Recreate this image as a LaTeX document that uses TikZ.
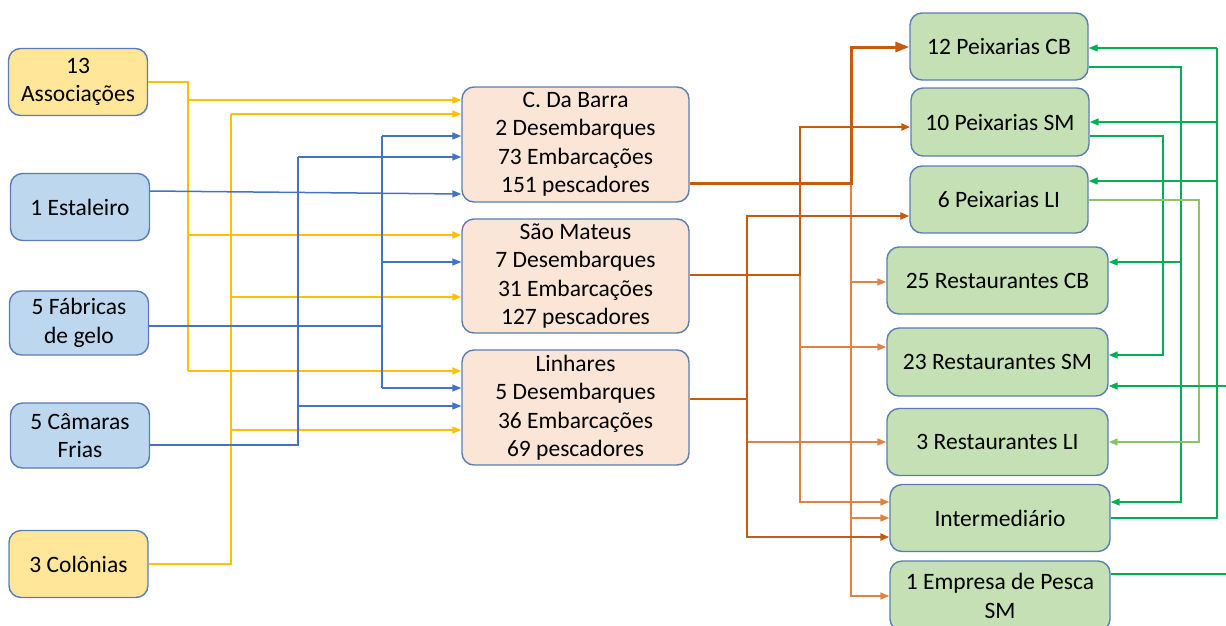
\documentclass[tikz,border=0pt]{standalone}
\usepackage{fontspec}
\setmainfont{Carlito}
\usetikzlibrary{arrows.meta, positioning, calc}

\definecolor{ylwfill}{HTML}{FFE699}
\definecolor{bluefill}{HTML}{BDD7EE}
\definecolor{peachfill}{HTML}{FBE5D6}
\definecolor{greenfill}{HTML}{C5E0B4}
\definecolor{boxline}{HTML}{5B7DB5}
\definecolor{ylwline}{HTML}{FFC000}
\definecolor{blueline}{HTML}{4472C4}
\definecolor{orgline}{HTML}{C55A11}
\definecolor{orglight}{HTML}{DF8246}
\definecolor{grnline}{HTML}{00B050}
\definecolor{grnlight}{HTML}{8CC36A}

\tikzset{
	box/.style={draw=boxline, line width=1.4pt, rounded corners=12pt, align=center,
		inner sep=0pt, font=\fontsize{23.5}{28.5}\selectfont},
	srcbox/.style={box, minimum width=139pt, minimum height=67pt},
	portbox/.style={box, fill=peachfill, minimum width=227pt, minimum height=115pt},
	shopbox/.style={box, fill=greenfill, minimum width=178pt, minimum height=67pt},
	restbox/.style={box, fill=greenfill, minimum width=221pt, minimum height=67pt},
	tip/.style={-{Triangle[length=9pt,width=7pt]}},
	bigtip/.style={-{Triangle[length=14pt,width=10pt]}},
	yline/.style={draw=ylwline, line width=1.8pt},
	bline/.style={draw=blueline, line width=1.5pt},
	oline/.style={draw=orgline, line width=2.2pt},
	othin/.style={draw=orglight, line width=1.5pt},
	gline/.style={draw=grnline, line width=1.5pt}
}

\begin{document}
\begin{tikzpicture}[x=1pt, y=-1pt]
	\useasboundingbox (0,0) rectangle (1226,625);
	% ---------- left column: suppliers ----------
	\node[srcbox, fill=ylwfill] (assoc) at (78,82) {13\\Associações};
	\node[srcbox, fill=bluefill] (estal) at (80,207) {1 Estaleiro};
	\node[srcbox, fill=bluefill, minimum height=64pt] (fabr) at (79,323) {5 Fábricas\\de gelo};
	\node[srcbox, fill=bluefill, minimum height=65pt] (camar) at (80,435.5) {5 Câmaras\\Frias};
	\node[srcbox, fill=ylwfill] (colon) at (78.5,564) {3 Colônias};
	% ---------- middle column: landing sites ----------
	\node[portbox] (cdb) at (575.5,144.5) {C. Da Barra\\2 Desembarques\\73 Embarcações\\151 pescadores};
	\node[portbox, minimum height=114pt] (smat) at (575.5,276) {São Mateus\\7 Desembarques\\31 Embarcações\\127 pescadores};
	\node[portbox] (linh) at (575.5,407.5) {Linhares\\5 Desembarques\\36 Embarcações\\69 pescadores};
	% ---------- right column: buyers ----------
	\node[shopbox] (pcb) at (999,46.5) {12 Peixarias CB};
	\node[shopbox, minimum height=68pt] (psm) at (1000,122) {10 Peixarias SM};
	\node[shopbox] (pli) at (999,199.5) {6 Peixarias LI};
	\node[restbox] (rcb) at (997.5,280.5) {25 Restaurantes CB};
	\node[restbox, minimum height=68pt] (rsm) at (997.5,362) {23 Restaurantes SM};
	\node[restbox] (rli) at (997.5,442) {3 Restaurantes LI};
	\node[restbox, minimum width=220pt] (inter) at (1000,518) {Intermediário};
	\node[restbox, minimum width=220pt, minimum height=70pt] (emp) at (1000,596) {1 Empresa de Pesca\\SM};
	% ---------- yellow: associations and colonies ----------
	\coordinate (abus) at (188,371);
	\coordinate (cbus) at (231,114);
	\draw[yline, line width=2.6pt] (assoc.east) -| (abus);
	\foreach \y/\n in {100/cdb, 371/linh}
		\draw[yline, tip] (abus |- 0,\y) -- (\n.west |- 0,\y);
	\draw[yline, tip, line width=2.6pt] (abus |- 0,235) -- (smat.west |- 0,235);
	\draw[yline] (colon.east) -| (cbus);
	\foreach \y/\n in {114/cdb, 297/smat, 430/linh}
		\draw[yline, tip] (cbus |- 0,\y) -- (\n.west |- 0,\y);
	% ---------- blue: shipyard, ice and cold storage ----------
	\coordinate (fbus) at (382,136);
	\coordinate (kbus) at (298,157);
	\draw[bline, tip] (estal.east |- 0,191) -- (cdb.west |- 0,194);
	\draw[bline] (fabr.east |- 0,326) -| (fbus);
	\draw[bline] (fbus |- 0,326) -- (fbus |- 0,388);
	\foreach \y/\n in {136/cdb, 262/smat, 388/linh}
		\draw[bline, tip] (fbus |- 0,\y) -- (\n.west |- 0,\y);
	\draw[bline] (camar.east |- 0,445) -| (kbus);
	\foreach \y/\n in {157/cdb, 406/linh}
		\draw[bline, tip] (kbus |- 0,\y) -- (\n.west |- 0,\y);
	% ---------- orange: landing sites to buyers ----------
	\coordinate (obar) at (851,183);
	\coordinate (osm) at (800,275);
	\coordinate (olin) at (747,399);
	% C. Da Barra
	\draw[othin, tip] (obar) |- (emp.west);
	\draw[othin, tip] (obar |- 0,282) -- (rcb.west |- 0,282);
	\draw[othin, tip] (obar |- inter.west) -- (inter.west);
	\draw[oline, bigtip, line width=3pt] (cdb.east |- obar) -- (obar) |- (pcb.west |- 0,47);
	% São Mateus
	\draw[othin, tip] (osm) |- (inter.west |- 0,502);
	\draw[othin, tip] (osm |- 0,347) -- (rsm.west |- 0,347);
	\draw[oline, tip] (smat.east |- osm) -- (osm) |- (psm.west |- 0,127);
	% Linhares
	\draw[othin, tip] (olin |- rli.west) -- (rli.west);
	\draw[oline, tip] (linh.east |- olin) -- (olin) |- (pli.west |- 0,216);
	\draw[oline, tip, line width=2.6pt] (olin) |- (inter.west |- 0,537);
	% ---------- green: resale between buyers ----------
	\coordinate (gbus) at (1217,48);
	\coordinate (pcbbus) at (1181,67);
	\coordinate (psmbus) at (1163,136);
	\coordinate (plibus) at (1199,200);
	\coordinate (rim1) at (1226,386);
	\coordinate (rim2) at (1226,574);
	\draw[gline] (inter.east) -| (gbus);
	\draw[gline, tip] (gbus) -- (pcb.east |- gbus);
	\draw[gline, tip] (gbus |- psm.east) -- (psm.east);
	\draw[gline, tip] (gbus |- 0,181) -- (pli.east |- 0,181);
	\draw[gline, tip] (pcb.east |- pcbbus) -- (pcbbus) |- (inter.east |- 0,502);
	\draw[gline, tip] (pcbbus |- 0,262) -- (rcb.east |- 0,262);
	\draw[gline, tip] (psm.east |- psmbus) -- (psmbus) |- (rsm.east |- 0,355);
	\draw[gline, draw=grnlight, tip] (pli.east |- plibus) -- (plibus) |- (rli.east);
	\draw[gline, tip] (rim1) -- (rsm.east |- rim1);
	\draw[gline] (emp.east |- rim2) -- (rim2);
\end{tikzpicture}
\end{document}
